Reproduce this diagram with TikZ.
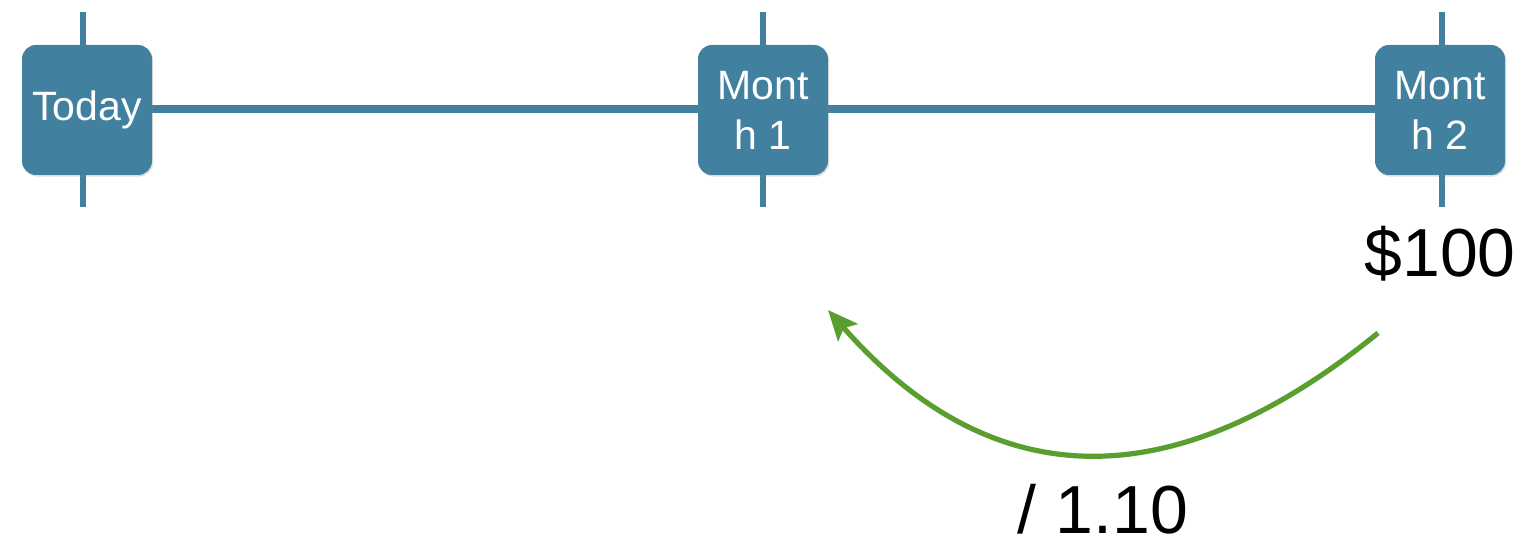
\documentclass[tikz,border=0pt]{standalone}
\usepackage{fontspec}
\setmainfont{Liberation Sans}
\usetikzlibrary{arrows.meta,backgrounds,shadows}
\definecolor{boxblue}{HTML}{41809F}
\definecolor{arrowgreen}{HTML}{5A9E30}
\tikzset{
  period/.style={fill=boxblue, rounded corners=7pt, minimum width=65pt, minimum height=65pt,
    inner sep=0pt, text=white, align=center, font=\fontsize{20.5}{25}\selectfont,
    drop shadow={shadow xshift=0.6pt, shadow yshift=-0.8pt, opacity=0.25}},
  tick/.style={draw=boxblue, line width=2.6pt},
  axis/.style={draw=boxblue, line width=4pt},
  amount/.style={anchor=base, inner sep=0pt, text depth=0pt, font=\fontsize{34}{40}\selectfont},
  flow/.style={draw=arrowgreen, line width=2.6pt, -{Stealth[length=15pt,width=13pt,inset=3pt]}}
}
\begin{document}
\begin{tikzpicture}[x=0.5pt,y=-0.5pt]
\useasboundingbox (0,0) rectangle (1530,549);
\node[period] (today) at (87,110) {Today};
\node[period] (m1) at (763,110) {Mont\\h 1};
\node[period] (m2) at (1440,110) {Mont\\h 2};
\coordinate (t0a) at (83,12);  \coordinate (t0b) at (83,207);
\coordinate (t1a) at (763,12); \coordinate (t1b) at (763,207);
\coordinate (t2a) at (1442,12); \coordinate (t2b) at (1442,207);
\begin{scope}[on background layer]
  \draw[tick] (t0a) -- (t0b);
  \draw[tick] (t1a) -- (t1b);
  \draw[tick] (t2a) -- (t2b);
  \draw[axis] ([yshift=0.5pt]today.center) -- ([yshift=0.5pt]m1.center);
  \draw[axis] ([yshift=0.5pt]m1.center) -- ([yshift=0.5pt]m2.center);
\end{scope}
\node[amount] (amt) at (1440,277) {\$100};
\node[amount] (rate) at (1103,533) {/ 1.10};
\coordinate (fs) at (1378,333);
\coordinate (fe) at (828,310);
\draw[flow] (fs) .. controls (1200,478) and (1011,518) .. (fe);
\end{tikzpicture}
\end{document}
